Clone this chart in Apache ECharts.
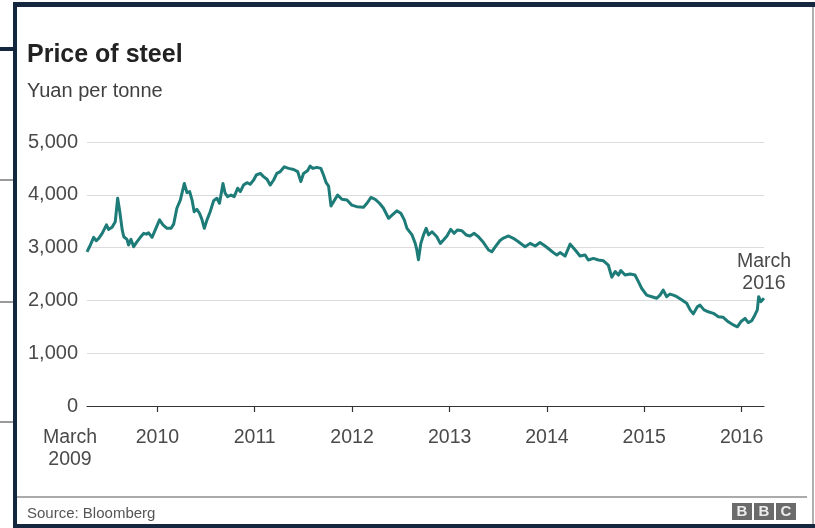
<!DOCTYPE html>
<html>
<head>
<meta charset="utf-8">
<script src="https://cdn.jsdelivr.net/npm/echarts@6/dist/echarts.min.js"></script>
<style>
  html, body { margin: 0; padding: 0; background: #ffffff; }
  #chart { width: 815px; height: 528px; }
</style>
</head>
<body>
<div id="chart"></div>
<script>
// Steel price, yuan per tonne, March 2009 - March 2016
const dates = [
  '2009-04-12','2009-04-22','2009-05-07','2009-05-17','2009-05-26','2009-06-08','2009-06-24','2009-07-02',
  '2009-07-15','2009-07-27','2009-08-05','2009-08-13','2009-08-22','2009-08-28','2009-09-09','2009-09-15',
  '2009-09-24','2009-10-04','2009-10-14','2009-10-29','2009-11-11','2009-11-21','2009-11-29','2009-12-12',
  '2009-12-24','2010-01-09','2010-01-22','2010-02-06','2010-02-21','2010-03-03','2010-03-15','2010-03-28',
  '2010-04-12','2010-04-22','2010-05-02','2010-05-11','2010-05-19','2010-05-29','2010-06-08','2010-06-17',
  '2010-06-26','2010-07-06','2010-07-18','2010-07-31','2010-08-12','2010-08-22','2010-09-04','2010-09-12',
  '2010-09-21','2010-10-04','2010-10-16','2010-10-29','2010-11-08','2010-11-20','2010-12-03','2010-12-15',
  '2010-12-28','2011-01-07','2011-01-22','2011-02-03','2011-02-16','2011-02-28','2011-03-13','2011-03-25',
  '2011-04-07','2011-04-22','2011-05-08','2011-05-27','2011-06-11','2011-06-23','2011-07-03','2011-07-18',
  '2011-07-28','2011-08-07','2011-08-22','2011-09-06','2011-09-16','2011-09-26','2011-10-05','2011-10-14',
  '2011-10-24','2011-11-08','2011-11-24','2011-12-13','2011-12-31','2012-01-19','2012-02-13','2012-02-26',
  '2012-03-12','2012-03-28','2012-04-13','2012-04-28','2012-05-17','2012-05-30','2012-06-17','2012-07-02',
  '2012-07-15','2012-07-25','2012-08-13','2012-08-25','2012-08-31','2012-09-06','2012-09-15','2012-09-25',
  '2012-10-05','2012-10-14','2012-10-27','2012-11-14','2012-11-27','2012-12-09','2012-12-22','2013-01-05',
  '2013-01-18','2013-01-30','2013-02-16','2013-03-04','2013-03-19','2013-04-03','2013-04-19','2013-05-08',
  '2013-05-27','2013-06-08','2013-06-21','2013-07-09','2013-07-22','2013-08-10','2013-08-28','2013-09-16',
  '2013-10-11','2013-10-30','2013-11-18','2013-12-06','2013-12-25','2014-01-13','2014-01-25','2014-02-07',
  '2014-02-19','2014-03-10','2014-03-29','2014-04-17','2014-05-05','2014-05-24','2014-06-05','2014-06-24',
  '2014-07-13','2014-08-01','2014-08-19','2014-09-01','2014-09-14','2014-09-26','2014-10-05','2014-10-21',
  '2014-11-09','2014-11-27','2014-12-10','2014-12-22','2015-01-10','2015-01-29','2015-02-17','2015-03-01',
  '2015-03-13','2015-03-26','2015-04-07','2015-04-20','2015-05-03','2015-05-21','2015-06-09','2015-06-22',
  '2015-07-04','2015-07-19','2015-07-29','2015-08-13','2015-08-29','2015-09-17','2015-10-06','2015-10-24',
  '2015-11-12','2015-12-01','2015-12-16','2015-12-29','2016-01-14','2016-01-26','2016-02-08','2016-02-20',
  '2016-02-29','2016-03-05','2016-03-13','2016-03-20','2016-03-25'
];

const prices = [
  2920, 3020, 3195, 3130, 3175, 3270, 3430, 3345,
  3385, 3490, 3935, 3680, 3335, 3205, 3155, 3050,
  3155, 3015, 3095, 3195, 3270, 3255, 3280, 3195,
  3335, 3525, 3430, 3365, 3365, 3445, 3745, 3900,
  4215, 4040, 4060, 3900, 3680, 3725, 3650, 3535,
  3365, 3525, 3680, 3890, 3935, 3840, 4215, 4030,
  3965, 3995, 3965, 4125, 4060, 4185, 4230, 4200,
  4280, 4375, 4405, 4345, 4295, 4185, 4280, 4405,
  4440, 4530, 4500, 4480, 4440, 4250, 4405, 4455,
  4545, 4500, 4520, 4500, 4375, 4230, 4165, 3790,
  3870, 3995, 3915, 3900, 3805, 3775, 3765, 3840,
  3950, 3915, 3840, 3745, 3555, 3615, 3695, 3650,
  3525, 3365, 3240, 3080, 2955, 2770, 3080, 3240,
  3365, 3240, 3300, 3205, 3080, 3145, 3220, 3345,
  3270, 3335, 3320, 3240, 3220, 3270, 3205, 3095,
  2955, 2920, 3015, 3135, 3180, 3220, 3175, 3110,
  3015, 3080, 3030, 3095, 3030, 2955, 2905, 2860,
  2905, 2840, 3065, 2955, 2840, 2860, 2765, 2795,
  2765, 2750, 2670, 2440, 2545, 2480, 2565, 2480,
  2500, 2480, 2355, 2230, 2100, 2070, 2040, 2100,
  2195, 2070, 2120, 2100, 2070, 2010, 1945, 1820,
  1745, 1880, 1910, 1820, 1785, 1755, 1690, 1680,
  1595, 1535, 1500, 1595, 1660, 1580, 1615, 1725,
  1820, 2070, 1975, 2010, 2040
];

const yearTicks = [2010, 2011, 2012, 2013, 2014, 2015, 2016];
const valueTicks = [0, 1000, 2000, 3000, 4000, 5000];
const startLabel = ['March', '2009'];
const endLabel = ['March', '2016'];

const titleText = 'Price of steel';
const unitText = 'Yuan per tonne';
const sourceText = 'Source: Bloomberg';
const brandLetters = ['B', 'B', 'C'];

const FONT = '"Liberation Sans", Arial, Helvetica, sans-serif';
const NAVY = '#14273f';
const LINE = '#1d7b78';
const TEXT = '#4a4a4a';

const ts = s => {
  const [y, m, d] = s.split('-').map(Number);
  return Date.UTC(y, m - 1, d);
};

const points = dates.map((d, i) => [ts(d), prices[i]]);
const xMin = points[0][0];
const xMax = points[points.length - 1][0];
const yearStamps = yearTicks.map(y => Date.UTC(y, 0, 1));
const last = points[points.length - 1];

const chart = echarts.init(document.getElementById('chart'), null, { renderer: 'canvas' });

const brand = [];
brandLetters.forEach((ch, i) => {
  brand.push({
    type: 'rect',
    shape: { x: 732 + i * 22, y: 503, width: 20, height: 17 },
    style: { fill: '#6b6b6b' }
  });
  brand.push({
    type: 'text',
    x: 742 + i * 22, y: 512,
    style: { text: ch, fill: '#ececec', font: 'bold 15px ' + FONT, align: 'center', verticalAlign: 'middle' }
  });
});

chart.setOption({
  animation: false,
  backgroundColor: '#ffffff',
  grid: {
    left: 87, right: 51, top: 142, bottom: 122,
    containLabel: false,
    outerBoundsMode: 'none'
  },
  xAxis: {
    type: 'value',
    min: xMin,
    max: xMax,
    splitLine: { show: false },
    axisLine: { show: true, onZero: false, lineStyle: { color: '#333333', width: 1.2 } },
    axisTick: {
      show: true,
      customValues: yearStamps,
      length: 6,
      lineStyle: { color: '#333333', width: 1.2 }
    },
    axisLabel: {
      customValues: [xMin].concat(yearStamps),
      margin: 21,
      color: TEXT,
      fontFamily: FONT,
      fontSize: 19.5,
      lineHeight: 22,
      formatter: v => {
        if (v === xMin) {
          return '{s|' + startLabel[0] + '}\n{s|' + startLabel[1] + '}';
        }
        return '{y|' + new Date(v).getUTCFullYear() + '}';
      },
      rich: {
        s: { fontFamily: FONT, fontSize: 19.5, lineHeight: 22, color: TEXT, padding: [0, 34, 0, 0] },
        y: { fontFamily: FONT, fontSize: 19.5, lineHeight: 22, color: TEXT }
      }
    }
  },
  yAxis: {
    type: 'value',
    min: valueTicks[0],
    max: valueTicks[valueTicks.length - 1],
    interval: 1000,
    axisLine: { show: false },
    axisTick: { show: false },
    splitLine: { show: true, lineStyle: { color: '#dcdcdc', width: 1 } },
    axisLabel: {
      margin: 9,
      color: TEXT,
      fontFamily: FONT,
      fontSize: 20,
      formatter: v => v.toLocaleString('en-US')
    }
  },
  series: [{
    type: 'line',
    data: points,
    showSymbol: false,
    smooth: false,
    lineStyle: { color: LINE, width: 3, join: 'round' },
    itemStyle: { color: LINE },
    emphasis: { disabled: true },
    z: 3,
    markPoint: {
      symbol: 'circle',
      symbolSize: 0,
      silent: true,
      data: [{ coord: last, value: last[1] }],
      label: {
        show: true,
        position: 'top',
        distance: 4,
        formatter: endLabel.join('\n'),
        color: TEXT,
        fontFamily: FONT,
        fontSize: 19.5,
        lineHeight: 22,
        align: 'center'
      }
    }
  }],
  graphic: [
    // frame
    { type: 'rect', shape: { x: 13, y: 2, width: 802, height: 5 }, style: { fill: NAVY }, z: 10 },
    { type: 'rect', shape: { x: 13, y: 2, width: 4, height: 526 }, style: { fill: NAVY }, z: 10 },
    { type: 'rect', shape: { x: 13, y: 524, width: 802, height: 4 }, style: { fill: NAVY }, z: 10 },
    { type: 'rect', shape: { x: 0, y: 47, width: 13, height: 4 }, style: { fill: NAVY }, z: 10 },
    { type: 'rect', shape: { x: 0, y: 179, width: 13, height: 2 }, style: { fill: '#9a9a9a' }, z: 10 },
    { type: 'rect', shape: { x: 0, y: 301, width: 13, height: 2 }, style: { fill: '#9a9a9a' }, z: 10 },
    { type: 'rect', shape: { x: 0, y: 421, width: 13, height: 2 }, style: { fill: '#9a9a9a' }, z: 10 },
    { type: 'rect', shape: { x: 812, y: 7, width: 2, height: 517 }, style: { fill: '#b0b0b0' }, z: 10 },
    { type: 'rect', shape: { x: 17, y: 496, width: 790, height: 2 }, style: { fill: '#aaaaaa' }, z: 10 },
    // heading
    {
      type: 'text', x: 27, y: 55,
      style: { text: titleText, fill: '#222222', font: 'bold 25px ' + FONT, align: 'left', verticalAlign: 'middle' }
    },
    {
      type: 'text', x: 27, y: 91,
      style: { text: unitText, fill: '#404040', font: '20px ' + FONT, align: 'left', verticalAlign: 'middle' }
    },
    // footer
    {
      type: 'text', x: 27, y: 514,
      style: { text: sourceText, fill: '#555555', font: '15px ' + FONT, align: 'left', verticalAlign: 'middle' }
    },
    { type: 'group', children: brand }
  ]
});
</script>
</body>
</html>
